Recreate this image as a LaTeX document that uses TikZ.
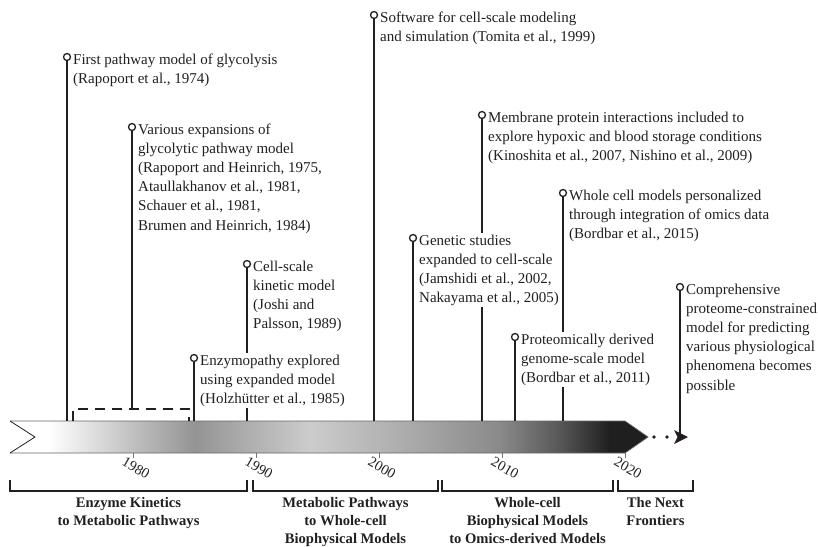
\documentclass[tikz,border=0pt]{standalone}
\usepackage{fontspec}
\setmainfont{Liberation Serif}
\definecolor{ink}{HTML}{231F20}
\pgfdeclarehorizontalshading{bandshade}{100bp}{color(0bp)=(white); color(25bp)=(white); color(28bp)=(white); color(34.4bp)=(black!24); color(39.5bp)=(black!42); color(48.5bp)=(black!20); color(55.6bp)=(black!32); color(63.4bp)=(black!46); color(68.1bp)=(black!66); color(72bp)=(black!88); color(75bp)=(black!88); color(100bp)=(black!88)}
\begin{document}
\begin{tikzpicture}[x=1pt,y=-1pt,
  evline/.style={draw=ink, line width=1.5pt},
  evdot/.style={circle, draw=ink, fill=white, line width=1.3pt, inner sep=0pt, minimum size=7pt},
  evtext/.style={anchor=base west, align=left, inner sep=1.5pt, fill=white, text=ink, font=\fontsize{15}{19.2}\selectfont},
  brk/.style={draw=ink, line width=1.5pt},
  brklabel/.style={anchor=base, align=center, inner sep=0pt, text=ink, font=\bfseries\fontsize{14.6}{18}\selectfont},
  yearlabel/.style={rotate=-30, inner sep=0pt, text=ink, font=\fontsize{14.5}{14.5}\selectfont},
  tickline/.style={draw=black!55, line width=0.8pt}]
\useasboundingbox (0,0) rectangle (818,546);

% timeline band
\path[shading=bandshade] (10,421) -- (625,421) -- (648,437) -- (625,453) -- (10,453) -- (35,437) -- cycle;
\draw[black!60, line width=0.7pt] (10,421) -- (625,421) -- (648,437) -- (625,453) -- (10,453);
\draw[ink, line width=0.8pt] (10,421) -- (35,437) -- (10,453);
\coordinate (bandtop) at (0,421);
\coordinate (dashtop) at (0,409);

% ticks and years
\foreach \x/\yr in {133/1980, 256/1990, 379/2000, 502/2010, 625/2020}{
  \draw[tickline] (\x,453) -- (\x,458);
  \node[yearlabel] (y\yr) at (\x+3,468) {\yr};
}

% continuation dots
\fill[ink] (654,437) circle (1.9pt);
\fill[ink] (667,437) circle (1.9pt);

% event markers
\node[evdot] (c1) at (67,57) {};
\node[evdot] (c2) at (132,127) {};
\node[evdot] (c3) at (247,264) {};
\node[evdot] (c4) at (194,358) {};
\node[evdot] (c5) at (374,15) {};
\node[evdot] (c6) at (482,115) {};
\node[evdot] (c7) at (413,238) {};
\node[evdot] (c8) at (563,193) {};
\node[evdot] (c9) at (515,337) {};
\node[evdot] (c10) at (680,287) {};

% event lines
\draw[evline] (c1.south) -- (c1.south |- bandtop);
\draw[evline] (c2.south) -- (c2.south |- dashtop);
\draw[evline] (c3.south) -- (c3.south |- bandtop);
\draw[evline] (c4.south) -- (c4.south |- bandtop);
\draw[evline] (c5.south) -- (c5.south |- bandtop);
\draw[evline] (c6.south) -- (c6.south |- bandtop);
\draw[evline] (c7.south) -- (c7.south |- bandtop);
\draw[evline] (c8.south) -- (c8.south |- bandtop);
\draw[evline] (c9.south) -- (c9.south |- bandtop);
\coordinate (arrtip) at (688,437);
\draw[evline] (c10.south) -- (c10.south |- arrtip);
\fill[ink] (arrtip) -- ++(-14,-7) -- ++(3.5,7) -- ++(-3.5,7) -- cycle;

% dashed range bracket
\draw[draw=ink, line width=1.5pt, dash pattern=on 10pt off 7pt] (73,421) -- (73,409) -- (189,409) -- (189,421);

% event texts (anchor = baseline of the last line)
\node[evtext] (t1) at (71.5,83.2) {First pathway model of glycolysis\\(Rapoport et al., 1974)};
\node[evtext] (t2) at (136.5,230) {Various expansions of\\glycolytic pathway model\\(Rapoport and Heinrich, 1975,\\Ataullakhanov et al., 1981,\\Schauer et al., 1981,\\Brumen and Heinrich, 1984)};
\node[evtext] (t3) at (251.5,328.6) {Cell-scale\\kinetic model\\(Joshi and\\Palsson, 1989)};
\node[evtext] (t4) at (198.5,403.4) {Enzymopathy explored\\using expanded model\\(Holzhütter et al., 1985)};
\node[evtext] (t5) at (378.5,41.2) {Software for cell-scale modeling\\and simulation (Tomita et al., 1999)};
\node[evtext] (t6) at (486.5,160.4) {Membrane protein interactions included to\\explore hypoxic and blood storage conditions\\(Kinoshita et al., 2007, Nishino et al., 2009)};
\node[evtext] (t7) at (417.5,302.6) {Genetic studies\\expanded to cell-scale\\(Jamshidi et al., 2002,\\Nakayama et al., 2005)};
\node[evtext] (t8) at (567.5,238.4) {Whole cell models personalized\\through integration of omics data\\(Bordbar et al., 2015)};
\node[evtext] (t9) at (519.5,382.4) {Proteomically derived\\genome-scale model\\(Bordbar et al., 2011)};
\node[evtext] (t10) at (684.5,390) {Comprehensive\\proteome-constrained\\model for predicting\\various physiological\\phenomena becomes\\possible};

% era brackets
\draw[brk] (10,480) -- (10,491) -- (247,491) -- (247,480);
\draw[brk] (253,480) -- (253,491) -- (438,491) -- (438,480);
\draw[brk] (442,480) -- (442,491) -- (613,491) -- (613,480);
\draw[brk] (618,480) -- (618,491) -- (693,491) -- (693,480);
\node[brklabel] (e1) at (128.5,525) {Enzyme Kinetics\\to Metabolic Pathways};
\node[brklabel] (e2) at (345.5,543) {Metabolic Pathways\\to Whole-cell\\Biophysical Models};
\node[brklabel] (e3) at (527.5,543) {Whole-cell\\Biophysical Models\\to Omics-derived Models};
\node[brklabel] (e4) at (655.5,525) {The Next\\Frontiers};
\end{tikzpicture}
\end{document}
